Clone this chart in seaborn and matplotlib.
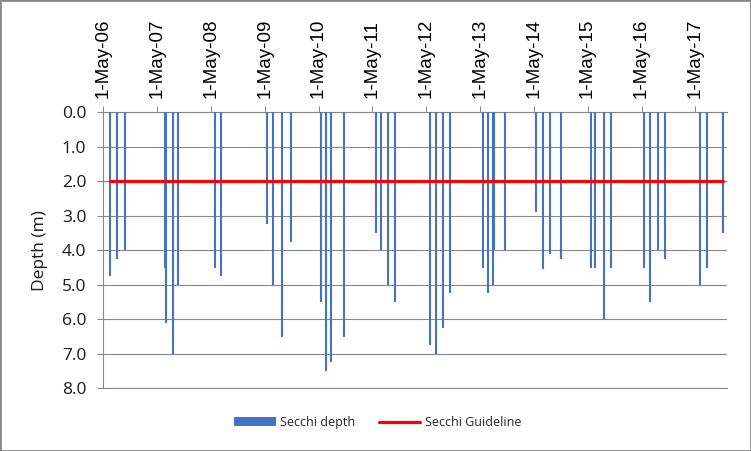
import matplotlib
matplotlib.use("Agg")
import matplotlib.pyplot as plt
import matplotlib.dates as mdates
from matplotlib.patches import Patch, Rectangle
from matplotlib.lines import Line2D
from matplotlib.ticker import FixedLocator, FixedFormatter
import seaborn as sns
import pandas as pd
import numpy as np

# ---- data ----
sample_dates = ["2006-06-15", "2006-08-02", "2006-09-23",
                "2007-06-21", "2007-06-30", "2007-08-14", "2007-09-19",
                "2008-05-28", "2008-07-08",
                "2009-05-16", "2009-06-26", "2009-08-26", "2009-10-29",
                "2010-05-17", "2010-06-20", "2010-07-23", "2010-10-20",
                "2011-05-26", "2011-06-29", "2011-08-16", "2011-10-02",
                "2012-05-26", "2012-07-06", "2012-08-22", "2012-10-09",
                "2013-05-19", "2013-06-22", "2013-07-31", "2013-08-07", "2013-10-16",
                "2014-05-19", "2014-06-29", "2014-08-22", "2014-10-29",
                "2015-05-26", "2015-06-22", "2015-08-22", "2015-10-09",
                "2016-05-19", "2016-06-29", "2016-08-22", "2016-10-09",
                "2017-06-02", "2017-07-19", "2017-11-05"]
secchi_depth = [4.75, 4.25, 4.0,
                4.5, 6.1, 7.0, 5.0,
                4.5, 4.75,
                3.25, 5.0, 6.5, 3.75,
                5.5, 7.5, 7.25, 6.5,
                3.5, 4.0, 5.0, 5.5,
                6.75, 7.0, 6.25, 5.25,
                4.5, 5.25, 5.0, 4.0, 4.0,
                2.9, 4.55, 4.1, 4.25,
                4.5, 4.5, 6.0, 4.5,
                4.5, 5.5, 4.0, 4.25,
                5.0, 4.5, 3.5]
guideline_depth = 2.0
tick_dates = ["2006-05-01", "2007-05-01", "2008-05-01", "2009-05-01", "2010-05-01",
              "2011-05-01", "2012-05-01", "2013-05-01", "2014-05-01", "2015-05-01",
              "2016-05-01", "2017-05-01"]
tick_labels = ["1-May-06", "1-May-07", "1-May-08", "1-May-09", "1-May-10", "1-May-11",
               "1-May-12", "1-May-13", "1-May-14", "1-May-15", "1-May-16", "1-May-17"]
y_ticks = [0, 1, 2, 3, 4, 5, 6, 7, 8]
y_tick_labels = ["0.0", "1.0", "2.0", "3.0", "4.0", "5.0", "6.0", "7.0", "8.0"]
x_min_date, x_max_date = "2006-05-01", "2017-12-04"

BLUE = "#4472C4"
RED = "#FF0000"
GRAY = "#898989"

sns.set_style("white")
plt.rcParams["font.family"] = ["Open Sans", "DejaVu Sans"]

W, H = 751, 451
fig = plt.figure(figsize=(W / 100, H / 100), dpi=100)
L, R, T, B = 103.3, 727.3, 112.3, 388.3
ax = fig.add_axes([L / W, 1 - B / H, (R - L) / W, (B - T) / H])

date_num = mdates.date2num(pd.to_datetime(sample_dates))
df = pd.DataFrame({"date": date_num, "depth": secchi_depth})

# thin depth columns hanging from the surface (2 px wide)
ax.vlines(df["date"], 0, df["depth"], colors=BLUE, linewidth=1.5,
          capstyle="butt", zorder=3)

# guideline across the sampled period
gdf = pd.DataFrame({"date": [date_num[0], date_num[-1]], "depth": guideline_depth})
sns.lineplot(data=gdf, x="date", y="depth", color=RED, linewidth=2.3, ax=ax, zorder=4)

ax.set_xlim(mdates.date2num(pd.Timestamp(x_min_date)), mdates.date2num(pd.Timestamp(x_max_date)))
ax.set_ylim(8, 0)

tick_num = mdates.date2num(pd.to_datetime(tick_dates))
ax.xaxis.set_major_locator(FixedLocator(tick_num))
ax.xaxis.set_major_formatter(FixedFormatter(tick_labels))
ax.xaxis.tick_top()
ax.tick_params(axis="x", which="major", top=True, bottom=False, labeltop=True, labelbottom=False,
               direction="out", length=4.3, width=0.75, color=GRAY, pad=6,
               labelrotation=90, labelsize=13.5, labelcolor="#000000")
for lab in ax.get_xticklabels():
    lab.set_fontfamily(["Liberation Sans", "DejaVu Sans"])

ax.set_yticks(y_ticks)
ax.set_yticklabels(y_tick_labels)
ax.tick_params(axis="y", left=True, direction="out", length=4.3, width=0.75, color=GRAY,
               pad=8, labelsize=12.5, labelcolor="#1a1a1a")

ax.yaxis.grid(True, color=GRAY, linewidth=0.8, zorder=0)
ax.xaxis.grid(False)
ax.set_axisbelow(True)
ax.spines["right"].set_visible(False)
for s in ["left", "top", "bottom"]:
    ax.spines[s].set_color(GRAY)
    ax.spines[s].set_linewidth(0.8)

ax.set_xlabel("")
ax.set_ylabel("Depth (m)", fontsize=12.5, color="#1a1a1a", va="center")
ax.yaxis.set_label_coords(-0.1014, 0.5)

handles = [Patch(facecolor=BLUE, edgecolor="none"), Line2D([0], [0], color=RED, linewidth=2.3)]
fig.legend(handles, ["Secchi depth", "Secchi Guideline"], loc="center",
           bbox_to_anchor=(0.503, 1 - 422.7 / H), ncol=2, frameon=False, fontsize=9,
           handlelength=3.3, handleheight=0.7, handletextpad=0.35, columnspacing=1.9)

fig.patches.append(Rectangle((0, 0), 1, 1, transform=fig.transFigure, fill=False,
                             edgecolor=GRAY, linewidth=2))

fig.savefig("out.png", dpi=100)
